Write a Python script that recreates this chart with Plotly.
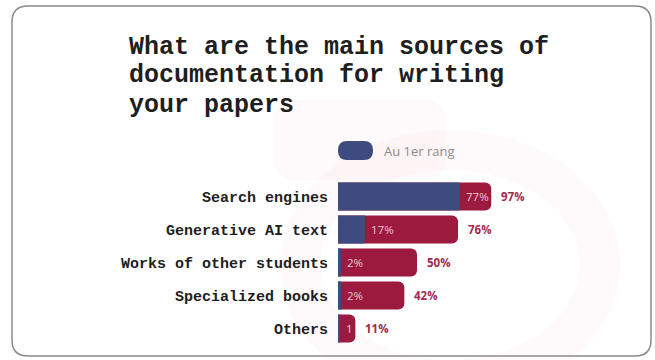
import plotly.graph_objects as go

categories = ["Search engines", "Generative AI text", "Works of other students",
              "Specialized books", "Others"]
total_pct = [97, 76, 50, 42, 11]
first_rank_pct = [77, 17, 2, 2, 1]
total_labels = ["97%", "76%", "50%", "42%", "11%"]
first_rank_labels = ["77%", "17%", "2%", "2%", "1"]
title_lines = ["What are the main sources of", "documentation for writing", "your papers"]
legend_label = "Au 1er rang"

W, H = 655, 360
ML, MR, MT, MB = 338, 20, 180, 15
PW, PH = W - ML - MR, H - MT - MB

def px(x):
    return (x - ML) / PW

def py(y):
    return (H - MB - y) / PH

BLUE = "#3e4b7f"
RED = "#9b1a3e"
MONO = "Courier New, Liberation Mono, monospace"
SANS = "Open Sans, Noto Sans, sans-serif"

fig = go.Figure()
fig.add_trace(go.Bar(
    y=categories, x=total_pct, orientation="h",
    marker=dict(color=RED, cornerradius=6, line=dict(width=0)),
    hoverinfo="skip", showlegend=False,
))
fig.add_trace(go.Bar(
    y=categories, x=first_rank_pct, orientation="h",
    marker=dict(color=BLUE, line=dict(width=0)),
    hoverinfo="skip", showlegend=False,
))

annotations = []
for c, v, t in zip(categories, total_pct, total_labels):
    annotations.append(dict(x=v, y=c, xref="x", yref="y", text=t, showarrow=False,
                            xanchor="left", xshift=8,
                            font=dict(family=SANS, size=11.5,
                                      color="#a3284f", weight="bold")))
for c, v, t in zip(categories, first_rank_pct, first_rank_labels):
    annotations.append(dict(x=v, y=c, xref="x", yref="y", text=t, showarrow=False,
                            xanchor="left", xshift=4,
                            font=dict(family=SANS, size=11.5, color="#eec3d0")))

for line, yc in zip(title_lines, [47, 76, 105]):
    annotations.append(dict(x=px(127), y=py(yc), xref="paper", yref="paper", text=line,
                            showarrow=False, xanchor="left", yanchor="middle",
                            font=dict(family=MONO, size=25, color="#1e1e1e", weight="bold")))

annotations.append(dict(x=px(382), y=py(151), xref="paper", yref="paper", text=legend_label,
                        showarrow=False, xanchor="left", yanchor="middle",
                        font=dict(family=SANS, size=13, color="#8c8c8c")))

def rounded_rect(x0, y0, x1, y1, r):
    pts = []
    pts.append(f"M {px(x0 + r)} {py(y0)}")
    pts.append(f"L {px(x1 - r)} {py(y0)}")
    pts.append(f"Q {px(x1)} {py(y0)} {px(x1)} {py(y0 + r)}")
    pts.append(f"L {px(x1)} {py(y1 - r)}")
    pts.append(f"Q {px(x1)} {py(y1)} {px(x1 - r)} {py(y1)}")
    pts.append(f"L {px(x0 + r)} {py(y1)}")
    pts.append(f"Q {px(x0)} {py(y1)} {px(x0)} {py(y1 - r)}")
    pts.append(f"L {px(x0)} {py(y0 + r)}")
    pts.append(f"Q {px(x0)} {py(y0)} {px(x0 + r)} {py(y0)} Z")
    return " ".join(pts)

shapes = [
    # faint background watermark
    dict(type="path", xref="paper", yref="paper", layer="below",
         path=rounded_rect(275, 100, 445, 180, 20),
         fillcolor="rgba(215,60,90,0.025)", line=dict(width=0)),
    dict(type="circle", xref="paper", yref="paper", layer="below",
         x0=px(300), x1=px(600), y0=py(150), y1=py(380),
         fillcolor="rgba(0,0,0,0)", line=dict(color="rgba(215,60,90,0.03)", width=40)),
    # card border
    dict(type="path", xref="paper", yref="paper", layer="above",
         path=rounded_rect(12, 6, 651, 356, 16),
         fillcolor="rgba(0,0,0,0)", line=dict(color="#8a8a8a", width=1.5)),
    # legend swatch
    dict(type="path", xref="paper", yref="paper",
         path=rounded_rect(338, 141, 373, 160, 9),
         fillcolor=BLUE, line=dict(width=0)),
]

fig.update_layout(
    width=W, height=H,
    margin=dict(l=ML, r=MR, t=MT, b=MB, pad=0),
    paper_bgcolor="white", plot_bgcolor="rgba(0,0,0,0)",
    barmode="overlay", bargap=0.15,
    showlegend=False,
    annotations=annotations, shapes=shapes,
    xaxis=dict(range=[0, 188], visible=False, fixedrange=True),
    yaxis=dict(autorange="reversed", showgrid=False, zeroline=False, showline=False,
               ticks="", ticklabelstandoff=9,
               tickfont=dict(family=MONO, size=15, color="#1e1e1e", weight="bold")),
)

fig.write_html("out.html")
